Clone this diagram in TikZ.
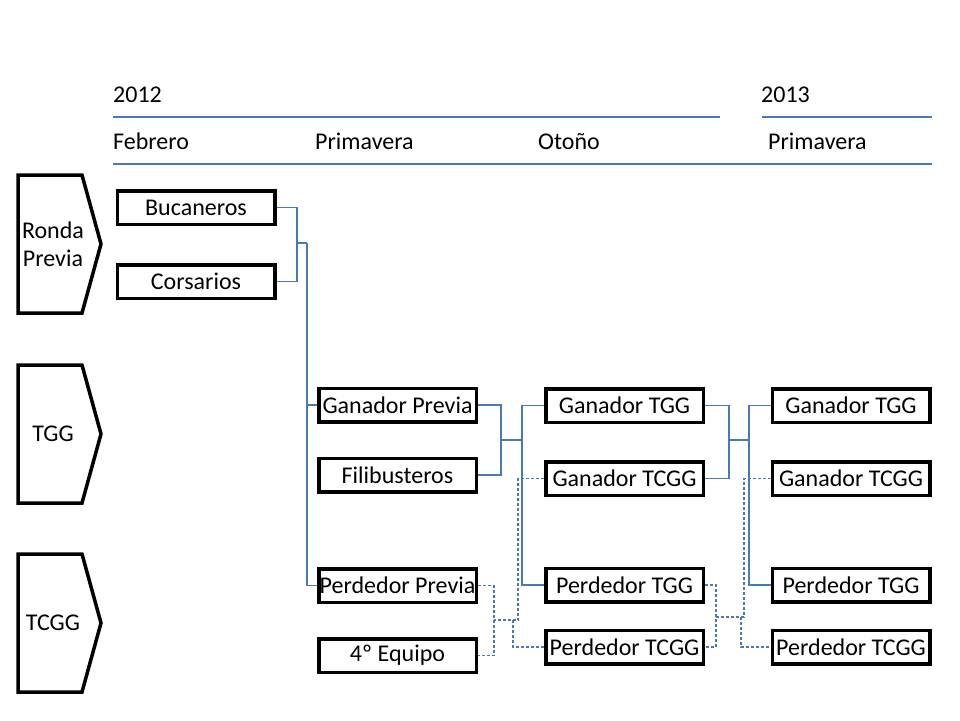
\documentclass[tikz,border=0pt]{standalone}
\usepackage{fontspec}
\setmainfont{Carlito}
\definecolor{linkblue}{RGB}{74,122,182}

\begin{document}
\begin{tikzpicture}[x=1pt, y=-1pt,
	team/.style={draw, line width=3.5pt, minimum width=157.5pt, minimum height=33.5pt, inner sep=0pt, font=\fontsize{24}{28}\selectfont},
	phase/.style={inner sep=0pt, align=center, font=\fontsize{24}{28}\selectfont},
	chevron/.style={draw, line width=3.5pt, line join=miter},
	head/.style={anchor=base west, inner sep=0pt, font=\fontsize{24}{28}\selectfont},
	link/.style={linkblue, line width=1.2pt},
	dlink/.style={link, dash pattern=on 3pt off 2pt}]

	\useasboundingbox (0,0) rectangle (960,720);

	% Calendar
	\node[head] (y12) at (113,102) {2012};
	\node[head] (y13) at (761,102) {2013};
	\node[head] (feb) at (113,149) {Febrero};
	\node[head] (pri) at (315,149) {Primavera};
	\node[head] (oto) at (538,149) {Otoño};
	\node[head] (prj) at (768,149) {Primavera};
	\draw[link] (113,117) -- (720,117);
	\draw[link] (762,117) -- (932,117);
	\draw[link] (113,164) -- (932,164);

	% Phases
	\foreach \top/\name/\txt in {175/ronda/{Ronda\\Previa}, 365/tgg/TGG, 554/tcgg/TCGG} {
		\draw[chevron] (18,\top) -- (82,\top) -- (101,\top+69) -- (82,\top+138) -- (18,\top+138) -- cycle;
		\node[phase] (\name) at (53,\top+69) {\txt};
	}

	% Teams
	\node[team] (buc) at (196,207.5) {Bucaneros};
	\node[team] (cor) at (196,281.5) {Corsarios};
	\node[team] (gpr) at (397.5,405) {Ganador Previa};
	\node[team] (fil) at (397.5,475) {Filibusteros};
	\node[team] (ppr) at (397.5,585.5) {Perdedor Previa};
	\node[team] (eq4) at (397.5,655.5) {4º Equipo};
	\node[team] (gt1) at (624.5,405.5) {Ganador TGG};
	\node[team] (gc1) at (624.5,478.5) {Ganador TCGG};
	\node[team] (pt1) at (624.5,585) {Perdedor TGG};
	\node[team] (pc1) at (624.5,647) {Perdedor TCGG};
	\node[team] (gt2) at (851,405.5) {Ganador TGG};
	\node[team] (gc2) at (851,478.5) {Ganador TCGG};
	\node[team] (pt2) at (851,585) {Perdedor TGG};
	\node[team] (pc2) at (851,647) {Perdedor TCGG};

	% Brackets
	\coordinate (ja) at (297,243);
	\coordinate (jb) at (307,243);
	\draw[link] (buc.east) -| (ja) |- (cor.east);
	\draw[link] (ja) -- (jb);
	\draw[link] (gpr.west) -| (jb) |- (ppr.west);

	\coordinate (jc) at (501,440);
	\coordinate (jd) at (522,440);
	\draw[link] (gpr.east) -| (jc) |- (fil.east);
	\draw[link] (jc) -- (jd);
	\draw[link] (gt1.west) -| (jd) |- (pt1.west);

	\coordinate (jh) at (729,440);
	\coordinate (ji) at (749,440);
	\draw[link] (gt1.east) -| (jh) |- (gc1.east);
	\draw[link] (jh) -- (ji);
	\draw[link] (gt2.west) -| (ji) |- (pt2.west);

	\coordinate (je) at (494,620);
	\coordinate (jf) at (518,620);
	\coordinate (jg) at (513,620);
	\draw[dlink] (ppr.east) -| (je) |- (eq4.east);
	\draw[dlink] (gc1.west) -| (jf) -- (je);
	\draw[dlink] (jg) |- (pc1.west);

	\coordinate (jj) at (716,617);
	\coordinate (jk) at (744,617);
	\coordinate (jl) at (741,617);
	\draw[dlink] (pt1.east) -| (jj) |- (pc1.east);
	\draw[dlink] (gc2.west) -| (jk) -- (jj);
	\draw[dlink] (jl) |- (pc2.west);

\end{tikzpicture}
\end{document}
